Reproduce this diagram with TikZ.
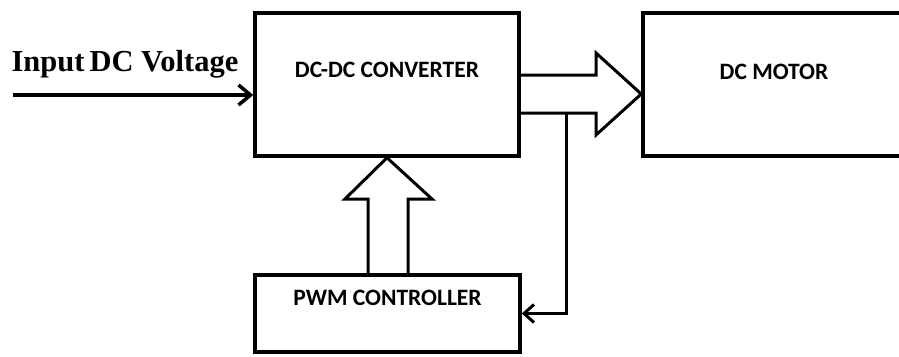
\documentclass[tikz,border=0pt]{standalone}
\usepackage{fontspec}
\setsansfont{Carlito}
\newfontfamily\labelfont{Liberation Serif}
\usetikzlibrary{arrows.meta}

\tikzset{
  block/.style={draw, line width=3.5pt, font=\sffamily\bfseries\fontsize{23.5}{23.5}\selectfont, inner sep=0pt},
  bigarrow/.style={line width=3pt, line join=miter},
  signal/.style={line width=3.5pt, -{Straight Barb[length=12pt,width=20pt]}}
}

\begin{document}
\begin{tikzpicture}[x=1pt,y=-1pt]
\useasboundingbox (0,0) rectangle (899,356);

\node[block, minimum width=264pt, minimum height=143pt, text height=15pt, text depth=30pt] (converter) at (387,84.5) {DC-DC CONVERTER};
\node[block, minimum width=262pt, minimum height=143pt, text height=15pt, text depth=26pt] (motor) at (774,84.5) {DC MOTOR};
\node[block, minimum width=265pt, minimum height=77pt, text height=15pt, text depth=32pt] (pwm) at (387.5,313.5) {PWM CONTROLLER};

\node[anchor=base, font=\labelfont\bfseries\fontsize{30.5}{30.5}\selectfont] (inlabel) at (125,71) {Input\,DC Voltage};
\coordinate (in) at (13,95);
\draw[signal] (in) -- (in -| converter.west);

% power to the motor
\draw[bigarrow] (converter.east |- 0,75) -- (596,75) -- (596,53) -- (motor.west |- 0,94)
  -- (596,135) -- (596,113) -- (converter.east |- 0,113);

% pwm drive
\draw[bigarrow] (368,0 |- pwm.north) -- (368,199) -- (345,199) -- (converter.south)
  -- (432,199) -- (408,199) -- (408,0 |- pwm.north);

% feedback
\coordinate (tap) at (566,113);
\draw[line width=3pt, -{Straight Barb[length=10pt,width=18pt]}] (tap) |- (pwm.east);

\end{tikzpicture}
\end{document}
